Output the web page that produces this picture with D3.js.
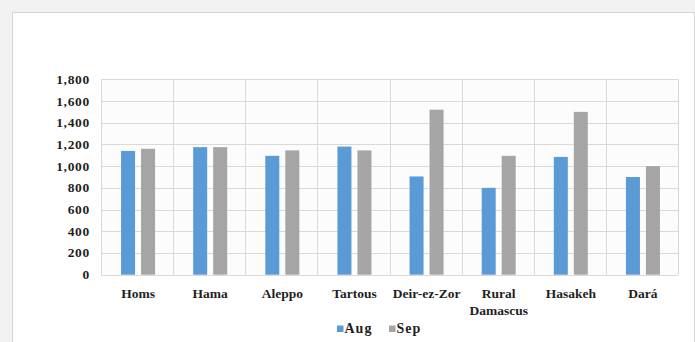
<!DOCTYPE html>
<html>
<head>
<meta charset="utf-8">
<title>Aug / Sep bar chart</title>
<style>
  body { margin: 0; background: #f2f2f2; }
  text { font-family: "Liberation Serif", "Times New Roman", serif; font-weight: bold; fill: #1f1f1f; }
</style>
</head>
<body>
<div id="container"></div>
<script src="https://cdn.jsdelivr.net/npm/d3@7/dist/d3.min.js"></script>
<script>
// data
var cities = ['Homs', 'Hama', 'Aleppo', 'Tartous', 'Deir-ez-Zor', 'Rural Damascus', 'Hasakeh', 'Dará']
var series = ['Aug', 'Sep']
var aug = [1140, 1175, 1095, 1180, 905, 800, 1085, 900]
var sep = [1160, 1175, 1145, 1145, 1520, 1095, 1500, 1000]
var yTicks = [0, 200, 400, 600, 800, 1000, 1200, 1400, 1600, 1800]
var colors = ['#5b9bd5', '#a5a5a5']

var width = 695, height = 342
// plot area edges (window.top is reserved, so use other names)
var plotL = 101, plotR = 678, plotT = 79.3, plotB = 274.7

var svg = d3.select('#container').append('svg')
  .attr('width', width).attr('height', height)
  .style('display', 'block')

// panel
svg.append('rect')
  .attr('x', 12.5).attr('y', 12.5).attr('width', 682).attr('height', 340)
  .attr('fill', '#fff').attr('stroke', '#d6d6d6')

var x = d3.scaleBand().domain(cities).range([plotL, plotR])
var x1 = d3.scaleBand().domain(series).range([-17, 17]).paddingInner(0.3)
var y = d3.scaleLinear().domain([0, 1800]).range([plotB, plotT])

// plot background
svg.append('rect')
  .attr('x', plotL).attr('y', plotT).attr('width', plotR - plotL).attr('height', plotB - plotT)
  .attr('fill', '#fcfcfc')

// horizontal grid
svg.append('g').selectAll('line').data(yTicks).enter().append('line')
  .attr('x1', plotL).attr('x2', plotR)
  .attr('y1', function(d){ return Math.round(y(d)) + 0.5 })
  .attr('y2', function(d){ return Math.round(y(d)) + 0.5 })
  .attr('stroke', '#d9d9d9')

// vertical grid (category borders)
var borders = cities.map(function(c){ return x(c) }).concat([plotR])
svg.append('g').selectAll('line').data(borders).enter().append('line')
  .attr('x1', function(d){ return Math.round(d) + 0.5 })
  .attr('x2', function(d){ return Math.round(d) + 0.5 })
  .attr('y1', plotT).attr('y2', plotB)
  .attr('stroke', '#d9d9d9')

// bars
var rows = cities.map(function(c, i){ return { city: c, vals: [aug[i], sep[i]] } })
var groups = svg.append('g').selectAll('g').data(rows).enter().append('g')
  .attr('transform', function(d){ return 'translate(' + (x(d.city) + x.bandwidth() / 2 + 1) + ',0)' })
groups.selectAll('rect')
  .data(function(d){ return d.vals.map(function(v, i){ return { s: series[i], v: v, i: i } }) })
  .enter().append('rect')
  .attr('x', function(d){ return x1(d.s) })
  .attr('width', x1.bandwidth())
  .attr('y', function(d){ return y(d.v) })
  .attr('height', function(d){ return y(0) - y(d.v) })
  .attr('fill', function(d){ return colors[d.i] })

// y axis labels
svg.append('g').selectAll('text').data(yTicks).enter().append('text')
  .attr('x', 90).attr('y', function(d){ return y(d) + 4.5 })
  .attr('text-anchor', 'end')
  .style('font-size', '13.5px').style('letter-spacing', '0.7px')
  .text(d3.format(','))

// x axis labels (wrap on spaces)
var xl = svg.append('g').selectAll('text').data(cities).enter().append('text')
  .attr('text-anchor', 'middle')
  .attr('transform', function(d){ return 'translate(' + (x(d) + x.bandwidth() / 2 + 1) + ',297.5)' })
  .style('font-size', '13.5px')
xl.each(function(d){
  var words = d.split(' ')
  var t = d3.select(this)
  words.forEach(function(w, i){
    t.append('tspan').attr('x', 0).attr('dy', i ? 17.5 : 0).text(w)
  })
})

// legend
var legend = svg.append('g').attr('transform', 'translate(337,0)')
var lx = [0, 52]
series.forEach(function(s, i){
  legend.append('rect')
    .attr('x', lx[i]).attr('y', 325.5).attr('width', 6.5).attr('height', 6.5)
    .attr('fill', colors[i])
  legend.append('text')
    .attr('x', lx[i] + 7.5).attr('y', 333)
    .style('font-size', '14px').style('letter-spacing', '1px')
    .text(s)
})
</script>
</body>
</html>
